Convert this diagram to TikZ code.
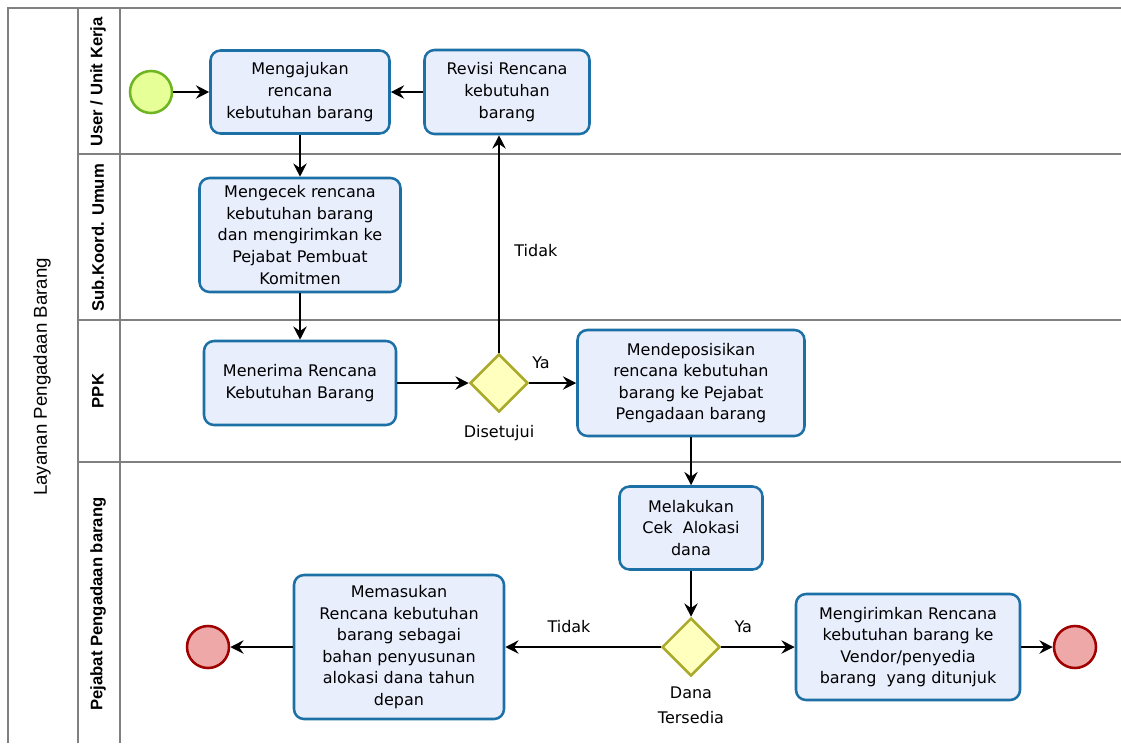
\documentclass[tikz,border=0pt]{standalone}
\usepackage{fontspec}
\setmainfont{DejaVu Sans}
\newfontfamily\lanefont{Liberation Sans}
\usetikzlibrary{shapes.geometric,arrows.meta,positioning}

\definecolor{laneline}{RGB}{128,128,128}
\definecolor{taskfill}{RGB}{233,238,253}
\definecolor{taskline}{RGB}{28,112,165}
\definecolor{startfill}{RGB}{230,255,151}
\definecolor{startline}{RGB}{110,180,35}
\definecolor{endfill}{RGB}{238,168,168}
\definecolor{endline}{RGB}{160,0,0}
\definecolor{gatefill}{RGB}{255,255,190}
\definecolor{gateline}{RGB}{170,170,45}

\begin{document}
\begin{tikzpicture}[x=0.75pt, y=-0.75pt, >={Stealth[length=10pt,width=10pt,inset=3.5pt]},
  bodyfont/.style={font=\fontsize{12}{16.2}\selectfont},
  task/.style={draw=taskline, fill=taskfill, line width=1.9pt, rounded corners=7.5pt,
    align=center, inner sep=0pt, bodyfont},
  gateway/.style={diamond, draw=gateline, fill=gatefill, line width=1.9pt,
    minimum width=43.5pt, minimum height=43.5pt, inner sep=0pt},
  startev/.style={circle, draw=startline, fill=startfill, line width=1.9pt,
    minimum size=31.5pt, inner sep=0pt},
  endev/.style={circle, draw=endline, fill=endfill, line width=1.9pt,
    minimum size=31.5pt, inner sep=0pt},
  flow/.style={->, line width=1.1pt},
  lbl/.style={bodyfont, inner sep=1pt, align=center},
  lanetitle/.style={rotate=90, font=\lanefont\bfseries\fontsize{12.5}{14}\selectfont}]

  \useasboundingbox (0,0) rectangle (1121,743);

  % 1. Pool and lanes
  \draw[laneline, line width=1.5pt] (8,743) -- (8,8) -- (1121,8);
  \draw[laneline, line width=1.5pt] (78,8) -- (78,743);
  \draw[laneline, line width=1.5pt] (120,8) -- (120,743);
  \foreach \yy in {154,320,462}
    \draw[laneline, line width=1.5pt] (78,\yy) -- (1121,\yy);

  \node[rotate=90, font=\lanefont\fontsize{14}{16}\selectfont] (pool) at (42,377) {Layanan Pengadaan Barang};
  \node[lanetitle] (laneUser) at (98,82) {User / Unit Kerja};
  \node[lanetitle] (laneSub) at (98,238) {Sub.Koord. Umum};
  \node[lanetitle] (lanePPK) at (98,391) {PPK};
  \node[lanetitle] (lanePejabat) at (98,604) {Pejabat Pengadaan barang};

  % 2. Events, tasks and gateways
  \node[startev] (start) at (151,92) {};
  \node[task, minimum width=134.25pt, minimum height=62.25pt] (ajukan) at (300,92)
    {Mengajukan\\rencana\\kebutuhan barang};
  \node[task, minimum width=123.75pt, minimum height=63pt] (revisi) at (507,92)
    {Revisi Rencana\\kebutuhan\\barang};
  \node[task, minimum width=150.75pt, minimum height=85.5pt] (cek) at (300,235)
    {Mengecek rencana\\kebutuhan barang\\dan mengirimkan ke\\Pejabat Pembuat\\Komitmen};
  \node[task, minimum width=144pt, minimum height=63pt] (terima) at (300,383)
    {Menerima Rencana\\Kebutuhan Barang};
  \node[gateway] (setuju) at (499,383) {};
  \node[lbl, below=8pt of setuju] (setujuLbl) {Disetujui};
  \node[task, minimum width=170.25pt, minimum height=79.5pt] (deposisi) at (691,383)
    {Mendeposisikan\\rencana kebutuhan\\barang ke Pejabat\\Pengadaan barang};
  \node[task, minimum width=107.25pt, minimum height=62.25pt] (alokasi) at (691,528)
    {Melakukan\\Cek\ \ Alokasi\\dana};
  \node[gateway] (dana) at (691,647) {};
  \node[lbl, below=6pt of dana, font=\fontsize{12}{18.5}\selectfont] (danaLbl) {Dana\\Tersedia};
  \node[task, minimum width=157.5pt, minimum height=108pt] (masukan) at (399,647)
    {Memasukan\\Rencana kebutuhan\\barang sebagai\\bahan penyusunan\\alokasi dana tahun\\depan};
  \node[task, minimum width=168pt, minimum height=79.5pt] (kirim) at (908,647)
    {Mengirimkan Rencana\\kebutuhan barang ke\\Vendor/penyedia\\barang\ \ yang ditunjuk};
  \node[endev] (end1) at (208,647) {};
  \node[endev] (end2) at (1075,647) {};

  % 3. Sequence flows
  \draw[flow] (start) -- (ajukan);
  \draw[flow] (revisi) -- (ajukan);
  \draw[flow] (ajukan) -- (cek);
  \draw[flow] (cek) -- (terima);
  \draw[flow] (terima) -- (setuju);
  \draw[flow] (setuju.north) -- (revisi.south -| setuju.north)
    node[lbl, pos=0.47, right=10pt] (tidak1) {Tidak};
  \draw[flow] (setuju) -- (deposisi)
    node[lbl, pos=0.25, above=9pt] (ya1) {Ya};
  \draw[flow] (deposisi) -- (alokasi);
  \draw[flow] (alokasi) -- (dana);
  \draw[flow] (dana) -- (masukan)
    node[lbl, pos=0.59, above=9pt] (tidak2) {Tidak};
  \draw[flow] (dana) -- (kirim)
    node[lbl, pos=0.3, above=9pt] (ya2) {Ya};
  \draw[flow] (masukan) -- (end1);
  \draw[flow] (kirim) -- (end2);
\end{tikzpicture}
\end{document}
